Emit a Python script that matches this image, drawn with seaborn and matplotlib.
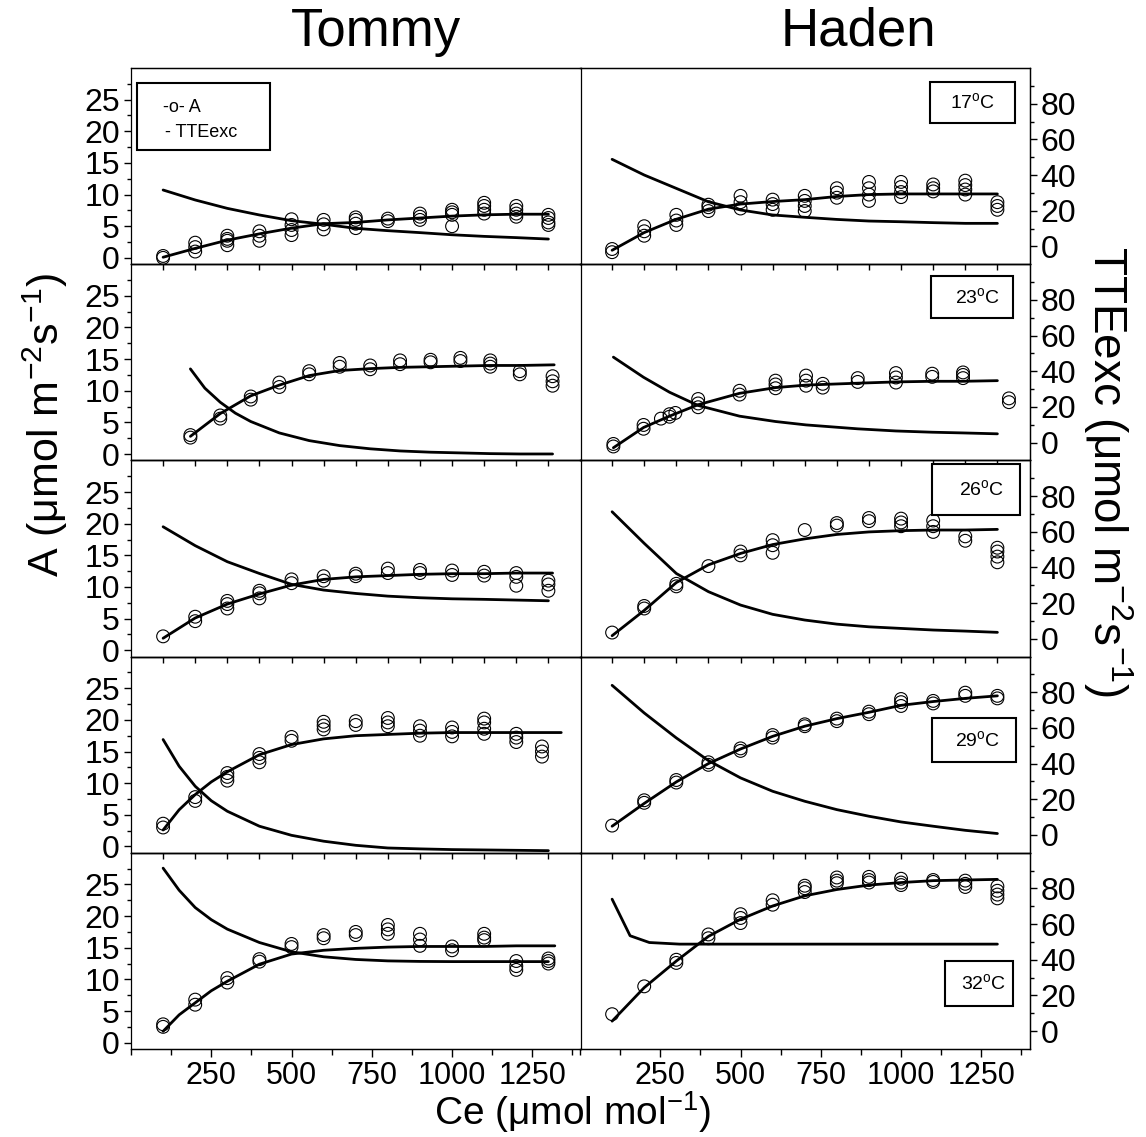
import pandas as pd
import matplotlib
matplotlib.use("Agg")
import matplotlib.pyplot as plt
from matplotlib.patches import Rectangle
from matplotlib.ticker import FixedLocator
import seaborn as sns

# -------------------------
# Data
# -------------------------
cultivars = ["Tommy", "Haden"]
temps = ["17", "23", "26", "29", "32"]
ce_grid = [100, 200, 300, 400, 500, 600, 700, 800, 900, 1000, 1100, 1200, 1300]

# Tommy 17 C
tommy17_ce = ce_grid
tommy17_a = [[0.0, 0.3], [1.0, 1.7, 2.4], [2.0, 2.7, 3.0, 3.5], [2.7, 3.5, 4.2],
             [3.6, 4.4, 5.2, 6.1], [4.5, 5.3, 6.0], [4.7, 5.4, 6.0, 6.4], [5.8, 6.2],
             [6.0, 6.5, 7.0], [5.0, 6.8, 7.2, 7.6], [7.0, 7.6, 8.2, 8.7],
             [6.5, 7.0, 7.6, 8.2], [5.2, 5.6, 6.3, 6.8]]
tommy17_fit_ce = ce_grid
tommy17_fit_a = [0.1, 1.5, 2.8, 3.8, 4.7, 5.4, 5.6, 6.0, 6.3, 6.6, 6.8, 6.9, 6.9]
tommy17_tte_ce = ce_grid
tommy17_tte = [31.6, 26.0, 21.3, 17.6, 14.4, 12.4, 10.1, 8.8, 7.7, 6.5, 5.6, 4.9, 4.1]

# Tommy 23 C
tommy23_ce = [185, 278, 373, 462, 555, 650, 745, 838, 933, 1026, 1119, 1211, 1313]
tommy23_a = [[2.6, 3.0], [5.6, 6.1], [8.6, 9.1], [10.6, 11.3], [12.6, 13.1], [13.8, 14.4],
             [13.4, 14.0], [14.2, 14.8], [14.5, 14.9], [14.7, 15.2], [13.8, 14.3, 14.8],
             [12.6, 13.1], [10.8, 11.5, 12.3]]
tommy23_fit_ce = [185, 278, 373, 462, 555, 650, 745, 838, 933, 1026, 1119, 1211, 1318]
tommy23_fit_a = [2.8, 6.4, 9.2, 10.9, 12.4, 13.2, 13.5, 13.7, 13.8, 13.9, 14.0, 14.0, 14.1]
tommy23_tte_ce = [185, 230, 278, 325, 373, 462, 555, 650, 745, 838, 933, 1026, 1119, 1211, 1313]
tommy23_tte = [41.3, 30.5, 22.6, 16.5, 11.8, 5.4, 1.1, -1.7, -3.5, -4.7, -5.4, -5.8, -6.2, -6.4, -6.4]

# Tommy 26 C
tommy26_ce = ce_grid
tommy26_a = [[2.2], [4.6, 5.3], [6.6, 7.3, 7.8], [8.2, 9.0, 9.4], [10.6, 11.2], [11.0, 11.7],
             [11.7, 12.1], [12.2, 12.9], [12.2, 12.7], [11.9, 12.6], [11.8, 12.4],
             [10.2, 11.6, 12.2], [9.4, 10.4, 11.0]]
tommy26_fit_ce = [100, 200, 300, 400, 500, 600, 700, 800, 900, 1000, 1100, 1200, 1313]
tommy26_fit_a = [1.9, 5.1, 7.3, 8.9, 10.3, 11.2, 11.6, 11.8, 12.0, 12.1, 12.1, 12.2, 12.2]
tommy26_tte_ce = ce_grid
tommy26_tte = [62.8, 52.2, 43.2, 36.6, 30.5, 27.3, 25.4, 23.9, 23.0, 22.4, 22.1, 21.7, 21.3]

# Tommy 29 C
tommy29_ce = [100, 200, 300, 400, 500, 600, 700, 800, 900, 1000, 1100, 1200, 1280]
tommy29_a = [[3.0, 3.6], [7.2, 7.8], [10.4, 11.0, 11.6], [13.3, 14.0, 14.6], [16.7, 17.3],
             [18.5, 19.1, 19.7], [19.2, 19.8], [19.0, 19.6, 20.3], [17.5, 18.3, 19.0],
             [17.4, 18.1, 18.8], [17.8, 18.6, 19.6, 20.2], [16.5, 17.2, 17.8],
             [14.2, 15.0, 15.8]]
tommy29_fit_ce = [100, 150, 200, 250, 300, 400, 500, 600, 700, 800, 900, 1000, 1100, 1200, 1340]
tommy29_fit_a = [2.6, 5.8, 8.2, 10.2, 11.8, 14.5, 16.1, 17.0, 17.5, 17.7, 17.9, 18.0, 18.0, 18.0, 18.0]
tommy29_tte_ce = [100, 150, 200, 250, 300, 400, 500, 600, 700, 800, 900, 1000, 1100, 1200, 1300]
tommy29_tte = [53.5, 38.5, 27.3, 19.2, 13.3, 4.9, -0.2, -3.5, -5.8, -7.3, -7.8, -8.2, -8.4, -8.6, -8.8]

# Tommy 32 C
tommy32_ce = ce_grid
tommy32_a = [[2.5, 2.9], [6.0, 6.8], [9.5, 10.2], [12.8, 13.2], [15.1, 15.6], [16.5, 17.0],
             [17.0, 17.5], [17.2, 17.9, 18.6], [15.3, 16.3, 17.2], [14.6, 15.2],
             [16.2, 16.6, 17.2], [11.5, 12.1, 12.9], [12.5, 12.9, 13.3]]
tommy32_fit_ce = [100, 150, 200, 250, 300, 400, 500, 600, 700, 800, 900, 1000, 1100, 1200, 1320]
tommy32_fit_a = [1.8, 4.4, 6.3, 8.2, 9.7, 12.4, 14.0, 14.6, 14.9, 15.1, 15.2, 15.2, 15.2, 15.3, 15.3]
tommy32_tte_ce = [100, 150, 200, 250, 300, 400, 500, 600, 700, 800, 900, 1000, 1100, 1200, 1300]
tommy32_tte = [91.4, 79.0, 69.3, 62.5, 57.2, 49.7, 44.5, 41.7, 40.2, 39.4, 39.1, 39.0, 39.0, 39.0, 39.0]

# Haden 17 C
haden17_ce = ce_grid
haden17_a = [[0.9, 1.4], [3.5, 4.2, 5.0], [5.2, 5.9, 6.8], [7.4, 8.0, 8.4], [7.8, 8.8, 9.8],
             [7.6, 8.5, 9.2], [7.4, 8.2, 9.0, 9.8], [9.5, 10.3, 11.0], [9.0, 10.0, 11.0, 12.0],
             [9.6, 10.4, 11.2, 12.0], [10.5, 11.0, 11.6], [10.0, 10.8, 11.5, 12.2],
             [7.6, 8.2, 8.8]]
haden17_fit_ce = ce_grid
haden17_fit_a = [1.2, 4.0, 6.1, 7.7, 8.5, 8.9, 9.2, 9.7, 10.0, 10.1, 10.1, 10.1, 10.1]
haden17_tte_ce = ce_grid
haden17_tte = [48.8, 40.0, 32.5, 25.0, 20.4, 17.6, 16.3, 15.1, 14.2, 13.8, 13.3, 12.9, 12.9]

# Haden 23 C
haden23_ce = [104, 198, 252, 279, 297, 368, 497, 609, 704, 756, 865, 984, 1097, 1193, 1336]
haden23_a = [[1.2, 1.6], [4.0, 4.6], [5.6], [5.9, 6.3], [6.5], [7.4, 8.0, 8.7], [9.4, 10.0],
             [10.4, 11.0, 11.6], [10.8, 11.6, 12.4], [10.5, 11.1], [11.4, 12.0],
             [11.3, 12.1, 12.8], [12.2, 12.7], [12.0, 12.5, 12.9], [8.2, 8.8]]
haden23_fit_ce = [104, 198, 279, 368, 497, 609, 704, 865, 984, 1097, 1193, 1300]
haden23_fit_a = [1.0, 4.2, 6.0, 7.8, 9.6, 10.5, 10.9, 11.2, 11.4, 11.5, 11.5, 11.6]
haden23_tte_ce = [104, 198, 279, 368, 497, 609, 704, 865, 984, 1097, 1193, 1300]
haden23_tte = [47.9, 36.6, 28.2, 20.8, 14.8, 11.8, 9.9, 7.7, 6.5, 5.8, 5.4, 4.9]

# Haden 26 C
haden26_ce = ce_grid
haden26_a = [[2.8], [6.6, 7.0], [10.1, 10.5], [13.3], [15.0, 15.6], [15.4, 16.6, 17.4],
             [19.0], [19.7, 20.1], [20.4, 20.9], [19.6, 20.2, 20.8], [18.7, 19.6, 20.5],
             [17.3, 18.0], [13.9, 14.8, 15.6, 16.2]]
haden26_fit_ce = ce_grid
haden26_fit_a = [2.3, 6.3, 10.7, 13.5, 15.3, 16.7, 17.6, 18.3, 18.7, 18.9, 19.0, 19.0, 19.1]
haden26_tte_ce = ce_grid
haden26_tte = [71.2, 53.5, 36.6, 26.4, 18.9, 13.7, 10.5, 8.2, 6.7, 5.8, 4.9, 4.3, 3.6]

# Haden 29 C
haden29_ce = ce_grid
haden29_a = [[3.3], [6.9, 7.3], [10.1, 10.5], [12.9, 13.3], [15.1, 15.5], [17.2, 17.6],
             [19.0, 19.3], [19.8, 20.2], [20.9, 21.3], [22.2, 22.8, 23.3], [22.6, 23.0],
             [23.8, 24.3], [23.4, 23.8]]
haden29_fit_ce = ce_grid
haden29_fit_a = [3.2, 6.8, 10.2, 13.1, 15.4, 17.4, 19.0, 20.2, 21.2, 22.3, 22.9, 23.4, 23.8]
haden29_tte_ce = ce_grid
haden29_tte = [83.9, 68.4, 54.4, 41.7, 32.0, 24.5, 18.9, 14.2, 10.5, 7.3, 4.9, 2.6, 0.8]

# Haden 32 C
haden32_ce = ce_grid
haden32_a = [[4.5], [8.9], [12.6, 13.1], [16.5, 17.1], [18.9, 19.7, 20.3], [21.8, 22.5],
             [23.8, 24.4, 24.8], [25.2, 25.6, 26.1], [25.3, 25.7, 26.2], [24.9, 25.3, 25.9],
             [25.4, 25.7], [24.6, 25.1, 25.6], [22.8, 23.4, 24.0, 24.7]]
haden32_fit_ce = ce_grid
haden32_fit_a = [3.4, 8.7, 12.9, 16.8, 19.5, 21.6, 23.2, 24.2, 24.9, 25.3, 25.6, 25.7, 25.8]
haden32_tte_ce = [100, 156, 216, 310, 1300]
haden32_tte = [74.0, 53.5, 49.7, 48.8, 48.8]

xtick_major = [250, 500, 750, 1000, 1250]
a_ticks = [0, 5, 10, 15, 20, 25]
tte_ticks = [0, 20, 40, 60, 80]

# -------------------------
# Build tables
# -------------------------
g = globals()
obs_rows = []
for cult in cultivars:
    for t in temps:
        key = f"{cult.lower()}{t}"
        for ce, reps in zip(g[key + "_ce"], g[key + "_a"]):
            for a in reps:
                obs_rows.append({"cultivar": cult, "temp": t, "ce": ce, "a": a})
obs = pd.DataFrame(obs_rows)

# -------------------------
# Style
# -------------------------
sns.set_style("ticks")
plt.rcParams["font.family"] = ["Liberation Sans", "DejaVu Sans"]
plt.rcParams["mathtext.fontset"] = "custom"
plt.rcParams["mathtext.rm"] = "Liberation Sans"
plt.rcParams["mathtext.it"] = "Liberation Sans:italic"
plt.rcParams["mathtext.bf"] = "Liberation Sans:bold"
plt.rcParams["axes.linewidth"] = 1.0
plt.rcParams["axes.edgecolor"] = "black"
plt.rcParams["text.color"] = "black"
plt.rcParams["xtick.color"] = "black"
plt.rcParams["ytick.color"] = "black"
plt.rcParams["axes.labelcolor"] = "black"

W, H = 1146, 1137
fig = plt.figure(figsize=(W / 100, H / 100), dpi=100)

col_left = [131, 580]
col_w = 449.5
top_px, bot_px = 68, 1049
row_h = (bot_px - top_px) / 5

# temperature label boxes (axes fraction: x0, y0, w, h, text x)
temp_boxes = {
    "17": (0.778, 0.720, 0.189, 0.209, 0.873),
    "23": (0.780, 0.726, 0.184, 0.214, 0.884),
    "26": (0.783, 0.722, 0.195, 0.260, 0.893),
    "29": (0.783, 0.463, 0.188, 0.224, 0.884),
    "32": (0.813, 0.219, 0.151, 0.230, 0.898),
}

for r, t in enumerate(temps):
    for c, cult in enumerate(cultivars):
        key = f"{cult.lower()}{t}"
        y_top = top_px + r * row_h
        ax = fig.add_axes([col_left[c] / W, 1 - (y_top + row_h) / H, col_w / W, row_h / H])
        ax.set_facecolor("none")
        tx = ax.twinx()

        sub = obs[(obs.cultivar == cult) & (obs.temp == t)]
        sns.scatterplot(data=sub, x="ce", y="a", ax=ax, marker="o", s=85,
                        facecolor="none", edgecolor="black", linewidth=0.8,
                        legend=False, zorder=2)
        ax.collections[-1].set_facecolor("none")
        sns.lineplot(x=g[key + "_fit_ce"], y=g[key + "_fit_a"], ax=ax, color="black",
                     lw=2.0, sort=False, estimator=None, zorder=3)
        sns.lineplot(x=g[key + "_tte_ce"], y=g[key + "_tte"], ax=tx, color="black",
                     lw=2.0, sort=False, estimator=None, zorder=3)

        ax.set_xlim(0, 1400)
        ax.set_ylim(-1, 30)
        tx.set_ylim(-10, 100)
        ax.set_xlabel("")
        ax.set_ylabel("")
        tx.set_xlabel("")
        tx.set_ylabel("")

        # x ticks
        if r == len(temps) - 1:
            ax.xaxis.set_major_locator(FixedLocator(xtick_major))
            ax.xaxis.set_minor_locator(FixedLocator([125 * k for k in range(0, 12)]))
            ax.tick_params(axis="x", which="major", direction="out", length=6, width=1,
                           labelsize=22, pad=3)
            ax.tick_params(axis="x", which="minor", direction="out", length=4, width=1)
        else:
            ax.xaxis.set_major_locator(FixedLocator(ce_grid))
            ax.xaxis.set_minor_locator(FixedLocator([]))
            ax.tick_params(axis="x", which="major", direction="out", length=4, width=1,
                           labelbottom=False)

        # y ticks
        if c == 0:
            ax.yaxis.set_major_locator(FixedLocator(a_ticks))
            ax.yaxis.set_minor_locator(FixedLocator([2.5, 7.5, 12.5, 17.5, 22.5, 27.5]))
            ax.tick_params(axis="y", which="major", direction="out", length=5, width=1,
                           labelsize=23, pad=3)
            ax.tick_params(axis="y", which="minor", direction="out", length=3, width=1)
            tx.set_yticks([])
            tx.tick_params(axis="y", right=False, labelright=False)
        else:
            ax.set_yticks([])
            ax.tick_params(axis="y", left=False, labelleft=False)
            tx.yaxis.set_major_locator(FixedLocator(tte_ticks))
            tx.yaxis.set_minor_locator(FixedLocator([-10 + 10 * k for k in range(1, 11)]))
            tx.tick_params(axis="y", which="major", direction="out", length=5, width=1,
                           labelsize=23, pad=3)
            tx.tick_params(axis="y", which="minor", direction="out", length=3, width=1)

        for sp in list(ax.spines.values()) + list(tx.spines.values()):
            sp.set_linewidth(0.9)
            sp.set_color("black")
        # avoid doubled lines along the shared middle border
        tx.spines["left"].set_visible(False)
        if c == 1:
            ax.spines["left"].set_visible(False)
        else:
            tx.spines["right"].set_visible(False)

        # legend box and temperature label
        if c == 0 and r == 0:
            tx.add_patch(Rectangle((0.013, 0.582), 0.297, 0.342, transform=tx.transAxes,
                                   fc="white", ec="black", lw=1.5, zorder=5))
            tx.text(0.071, 0.80, "-o- A", transform=tx.transAxes, fontsize=13,
                    ha="left", va="center", zorder=6)
            tx.text(0.075, 0.669, "- TTEexc", transform=tx.transAxes, fontsize=13,
                    ha="left", va="center", zorder=6)
        if c == 1:
            bx, by, bw, bh, txt_x = temp_boxes[t]
            tx.add_patch(Rectangle((bx, by), bw, bh, transform=tx.transAxes,
                                   fc="white", ec="black", lw=1.5, zorder=5))
            tx.text(txt_x, by + bh / 2, rf"{t}$^{{\rm o}}$C", transform=tx.transAxes,
                    fontsize=14, ha="center", va="center", zorder=6)

# -------------------------
# Titles and axis labels
# -------------------------
fig.text(376 / W, 1 - 32 / H, "Tommy", fontsize=38, ha="center", va="center")
fig.text(858 / W, 1 - 32 / H, "Haden", fontsize=38, ha="center", va="center")
fig.text(572 / W, 1 - 1125 / H, r"Ce (μmol mol$^{-1}$)", fontsize=28,
         ha="center", va="baseline")
fig.text(45 / W, 1 - 425 / H, r"A (μmol m$^{-2}$s$^{-1}$)", fontsize=31,
         rotation=90, ha="center", va="center")
fig.text(1108 / W, 1 - 472 / H, r"TTEexc (μmol m$^{-2}$s$^{-1}$)", fontsize=33,
         rotation=270, ha="center", va="center")

fig.savefig("out.png", dpi=100)
